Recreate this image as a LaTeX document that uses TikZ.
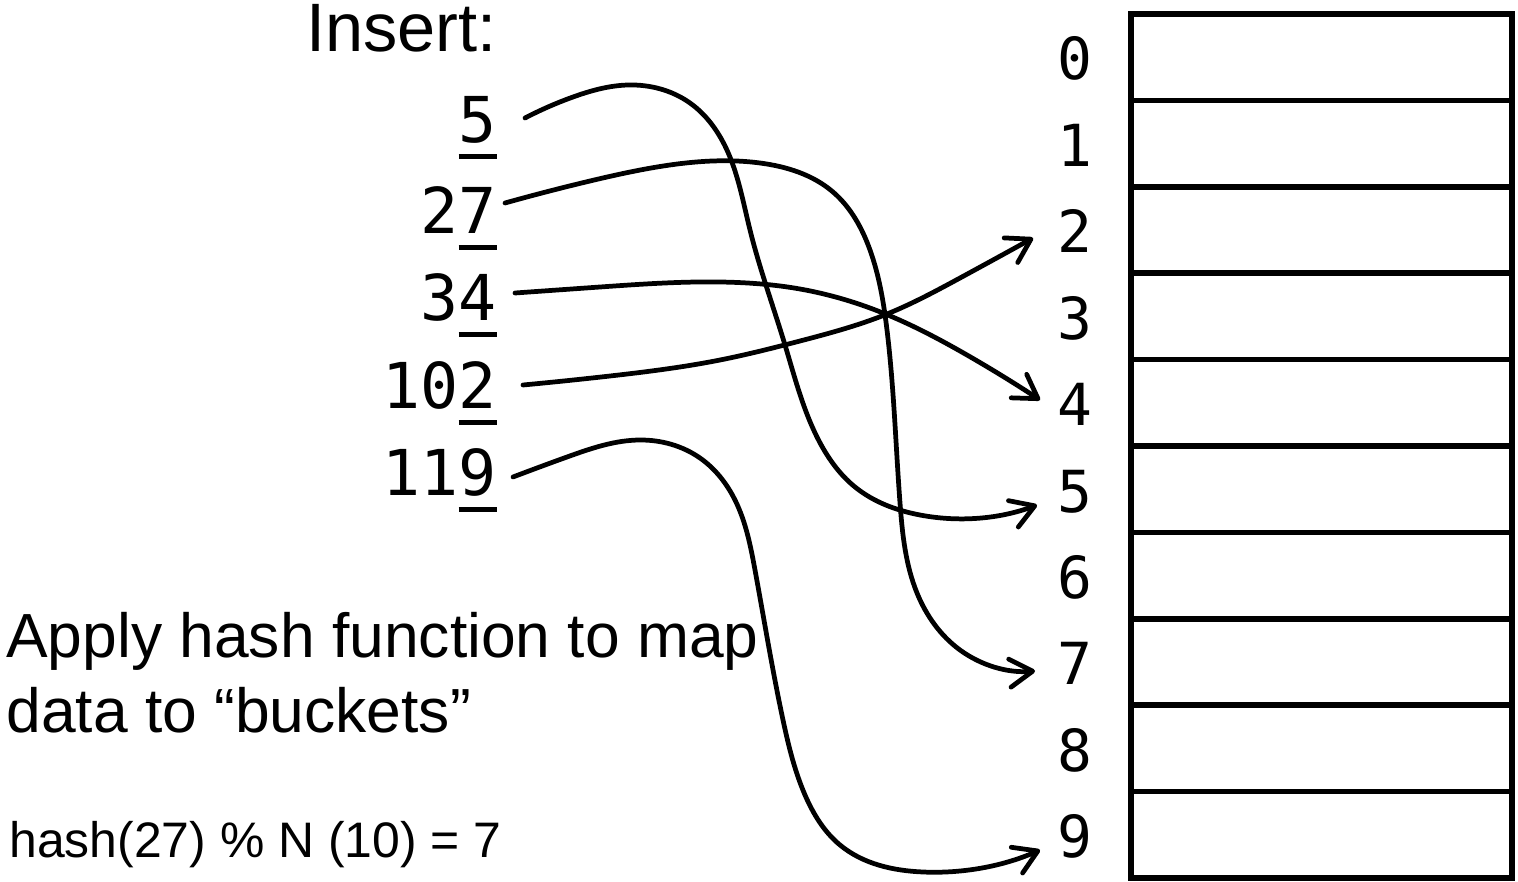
\documentclass[tikz,border=0pt]{standalone}
\usepackage{fontspec}
\setmainfont{Liberation Sans}
\newfontfamily\monofont{DejaVu Sans Mono}
\usetikzlibrary{arrows.meta,hobby}
\newcommand\uldigit[1]{\setbox0=\hbox{#1}\rlap{\rule[-9.6pt]{\wd0}{2.8pt}}#1}
\begin{document}
\begin{tikzpicture}[x=0.02cm,y=-0.02cm,
  keynum/.style={font=\monofont\fontsize{36}{40}\selectfont, anchor=base east, inner sep=0pt},
  idx/.style={font=\monofont\fontsize{33}{38}\selectfont, anchor=base, inner sep=0pt},
  conn/.style={line width=2.7pt, line cap=round, line join=round, use Hobby shortcut,
    -{Straight Barb[length=13pt,width=16pt,line cap=round,line join=round]}},
  tablebox/.style={line width=3.2pt}]
\useasboundingbox (0,0) rectangle (1518,882);
\fill[white] (0,0) rectangle (1518,882);

% table
\draw[tablebox] (1131,14) rectangle (1512,878);
\foreach \i in {1,...,9} \draw[tablebox] (1131,14+86.4*\i) -- (1512,14+86.4*\i);
\foreach \i in {0,...,9} \node[idx] (i\i) at (1075,80+86.4*\i) {\i};

% texts
\node[anchor=base east, inner sep=0pt, font=\fontsize{39}{45}\selectfont] (ins) at (497,52) {Insert:};
\node[keynum] (n5) at (497,142) {\uldigit{5}};
\node[keynum] (n27) at (497,233) {2\uldigit{7}};
\node[keynum] (n34) at (497,320) {3\uldigit{4}};
\node[keynum] (n102) at (497,408) {10\uldigit{2}};
\node[keynum] (n119) at (497,495) {11\uldigit{9}};

\node[anchor=north west, inner sep=0pt, align=left, font=\fontsize{35.5}{42.5}\selectfont] (apply) at (6,612)
  {Apply hash function to map\\data to “buckets”};
\node[anchor=base west, inner sep=0pt, font=\fontsize{28.4}{34}\selectfont] (hash) at (9,857)
  {hash(27) \% N (10) = 7};

% connector end points
\coordinate (s5) at (525,118);
\coordinate (s27) at (505,203);
\coordinate (s34) at (515,293);
\coordinate (s102) at (523,385);
\coordinate (s119) at (513,477);
\coordinate (t2) at (1033,238);
\coordinate (t4) at (1040,400);
\coordinate (t5) at (1037,505);
\coordinate (t7) at (1035,671);
\coordinate (t9) at (1040,850);

\draw[conn] (s5) .. (573,97) .. (628,85) .. (690,103) .. (726,148) .. (750,230) .. (785,345) .. (817,437) .. (855,487) .. (920,515) .. (t5);
\draw[conn] (s27) .. (590,181) .. (657,167) .. (760,163) .. (833,192) .. (870,250) .. (887,330) .. (900,503) .. (917,593) .. (960,650) .. (t7);
\draw[conn] (s34) .. (600,287) .. (720,282) .. (800,289) .. (883,313) .. (967,355) .. (t4);
\draw[conn] (s102) .. (610,376) .. (720,360) .. (800,341) .. (887,314) .. (960,278) .. (t2);
\draw[conn] (s119) .. (567,457) .. (640,440) .. (700,458) .. (735,500) .. (755,570) .. (783,720) .. (805,795) .. (840,845) .. (923,872) .. (t9);
\end{tikzpicture}
\end{document}
